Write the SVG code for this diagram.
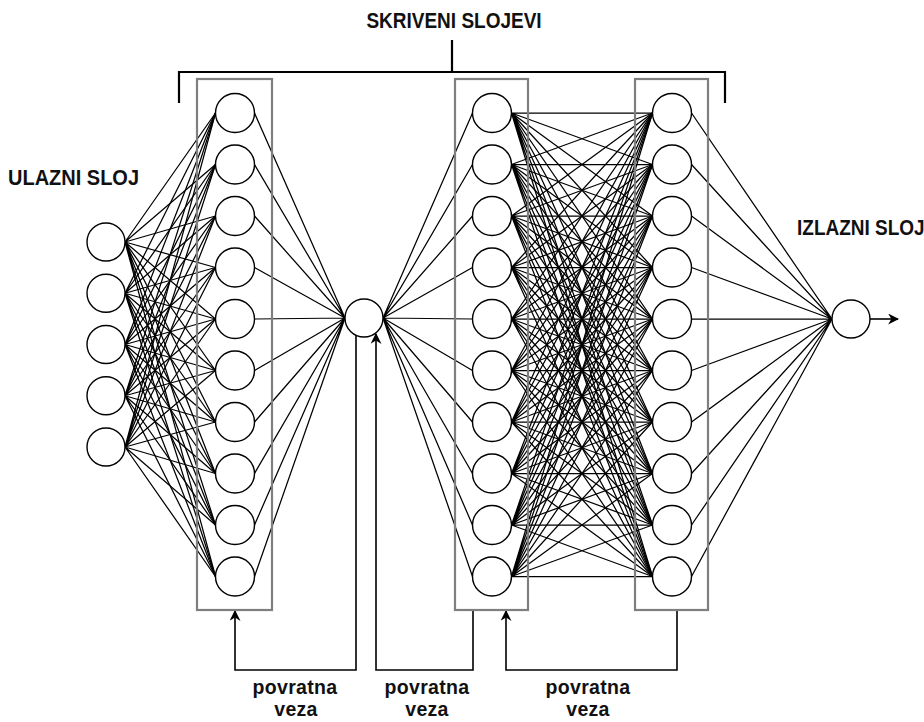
<svg xmlns="http://www.w3.org/2000/svg" width="924" height="722" viewBox="0 0 924 722">
<style>
.n{fill:#fff;stroke:#000;stroke-width:1.4}
.box{fill:none;stroke:#7f7f7f;stroke-width:2.2}
.e{fill:none;stroke:#000;stroke-width:1.25}
.fb{fill:none;stroke:#000;stroke-width:1.6}
.br{fill:none;stroke:#000;stroke-width:2.2}
.t{font-family:"Liberation Sans",Arial,sans-serif;font-weight:bold;font-size:19px;fill:#111}
.p{font-family:"Liberation Sans",Arial,sans-serif;font-weight:bold;font-size:19.5px;fill:#111;text-anchor:middle;letter-spacing:0.3px}
</style>
<defs>
<marker id="ah" viewBox="0 0 10 10" refX="9" refY="5" markerWidth="11" markerHeight="11" markerUnits="userSpaceOnUse" orient="auto">
<path d="M0 0L10 5L0 10L3 5Z" fill="#000"/>
</marker>
</defs>
<rect width="924" height="722" fill="#fff"/>

<g id="labels">
<text class="t" transform="translate(454,28) scale(1,1.15)" text-anchor="middle">SKRIVENI SLOJEVI</text>
<text class="t" transform="translate(8,185) scale(1,1.12)" style="font-size:20px">ULAZNI SLOJ</text>
<text class="t" transform="translate(797,235) scale(1,1.15)">IZLAZNI SLOJ</text>
<text class="p" x="295" y="694">povratna</text>
<text class="p" x="296" y="716">veza</text>
<text class="p" x="427" y="694">povratna</text>
<text class="p" x="427" y="716">veza</text>
<text class="p" x="588" y="694">povratna</text>
<text class="p" x="588" y="716">veza</text>
</g>

<g id="bracket">
<path class="br" d="M179 103V72H725V103M452 40V72"/>
</g>

<g id="connectors">
<path class="e" d="M125 242L215.5 113M125 242L215.5 164.5M125 242L215.5 216M125 242L215.5 267.5M125 242L215.5 319M125 242L215.5 370.5M125 242L215.5 422M125 242L215.5 473.5M125 242L215.5 525M125 242L215.5 576.5"/>
<path class="e" d="M125 293.25L215.5 113M125 293.25L215.5 164.5M125 293.25L215.5 216M125 293.25L215.5 267.5M125 293.25L215.5 319M125 293.25L215.5 370.5M125 293.25L215.5 422M125 293.25L215.5 473.5M125 293.25L215.5 525M125 293.25L215.5 576.5"/>
<path class="e" d="M125 344.5L215.5 113M125 344.5L215.5 164.5M125 344.5L215.5 216M125 344.5L215.5 267.5M125 344.5L215.5 319M125 344.5L215.5 370.5M125 344.5L215.5 422M125 344.5L215.5 473.5M125 344.5L215.5 525M125 344.5L215.5 576.5"/>
<path class="e" d="M125 395.75L215.5 113M125 395.75L215.5 164.5M125 395.75L215.5 216M125 395.75L215.5 267.5M125 395.75L215.5 319M125 395.75L215.5 370.5M125 395.75L215.5 422M125 395.75L215.5 473.5M125 395.75L215.5 525M125 395.75L215.5 576.5"/>
<path class="e" d="M125 447L215.5 113M125 447L215.5 164.5M125 447L215.5 216M125 447L215.5 267.5M125 447L215.5 319M125 447L215.5 370.5M125 447L215.5 422M125 447L215.5 473.5M125 447L215.5 525M125 447L215.5 576.5"/>

<path class="e" d="M254.5 113L345 318M254.5 164.5L345 318M254.5 216L345 318M254.5 267.5L345 318M254.5 319L345 318M254.5 370.5L345 318M254.5 422L345 318M254.5 473.5L345 318M254.5 525L345 318M254.5 576.5L345 318"/>

<path class="e" d="M383 318L472.5 113M383 318L472.5 164.5M383 318L472.5 216M383 318L472.5 267.5M383 318L472.5 319M383 318L472.5 370.5M383 318L472.5 422M383 318L472.5 473.5M383 318L472.5 525M383 318L472.5 576.5"/>

<path class="e" d="M511.5 113L652.5 113M511.5 113L652.5 164.5M511.5 113L652.5 216M511.5 113L652.5 267.5M511.5 113L652.5 319M511.5 113L652.5 370.5M511.5 113L652.5 422M511.5 113L652.5 473.5M511.5 113L652.5 525M511.5 113L652.5 576.5"/>
<path class="e" d="M511.5 164.5L652.5 113M511.5 164.5L652.5 164.5M511.5 164.5L652.5 216M511.5 164.5L652.5 267.5M511.5 164.5L652.5 319M511.5 164.5L652.5 370.5M511.5 164.5L652.5 422M511.5 164.5L652.5 473.5M511.5 164.5L652.5 525M511.5 164.5L652.5 576.5"/>
<path class="e" d="M511.5 216L652.5 113M511.5 216L652.5 164.5M511.5 216L652.5 216M511.5 216L652.5 267.5M511.5 216L652.5 319M511.5 216L652.5 370.5M511.5 216L652.5 422M511.5 216L652.5 473.5M511.5 216L652.5 525M511.5 216L652.5 576.5"/>
<path class="e" d="M511.5 267.5L652.5 113M511.5 267.5L652.5 164.5M511.5 267.5L652.5 216M511.5 267.5L652.5 267.5M511.5 267.5L652.5 319M511.5 267.5L652.5 370.5M511.5 267.5L652.5 422M511.5 267.5L652.5 473.5M511.5 267.5L652.5 525M511.5 267.5L652.5 576.5"/>
<path class="e" d="M511.5 319L652.5 113M511.5 319L652.5 164.5M511.5 319L652.5 216M511.5 319L652.5 267.5M511.5 319L652.5 319M511.5 319L652.5 370.5M511.5 319L652.5 422M511.5 319L652.5 473.5M511.5 319L652.5 525M511.5 319L652.5 576.5"/>
<path class="e" d="M511.5 370.5L652.5 113M511.5 370.5L652.5 164.5M511.5 370.5L652.5 216M511.5 370.5L652.5 267.5M511.5 370.5L652.5 319M511.5 370.5L652.5 370.5M511.5 370.5L652.5 422M511.5 370.5L652.5 473.5M511.5 370.5L652.5 525M511.5 370.5L652.5 576.5"/>
<path class="e" d="M511.5 422L652.5 113M511.5 422L652.5 164.5M511.5 422L652.5 216M511.5 422L652.5 267.5M511.5 422L652.5 319M511.5 422L652.5 370.5M511.5 422L652.5 422M511.5 422L652.5 473.5M511.5 422L652.5 525M511.5 422L652.5 576.5"/>
<path class="e" d="M511.5 473.5L652.5 113M511.5 473.5L652.5 164.5M511.5 473.5L652.5 216M511.5 473.5L652.5 267.5M511.5 473.5L652.5 319M511.5 473.5L652.5 370.5M511.5 473.5L652.5 422M511.5 473.5L652.5 473.5M511.5 473.5L652.5 525M511.5 473.5L652.5 576.5"/>
<path class="e" d="M511.5 525L652.5 113M511.5 525L652.5 164.5M511.5 525L652.5 216M511.5 525L652.5 267.5M511.5 525L652.5 319M511.5 525L652.5 370.5M511.5 525L652.5 422M511.5 525L652.5 473.5M511.5 525L652.5 525M511.5 525L652.5 576.5"/>
<path class="e" d="M511.5 576.5L652.5 113M511.5 576.5L652.5 164.5M511.5 576.5L652.5 216M511.5 576.5L652.5 267.5M511.5 576.5L652.5 319M511.5 576.5L652.5 370.5M511.5 576.5L652.5 422M511.5 576.5L652.5 473.5M511.5 576.5L652.5 525M511.5 576.5L652.5 576.5"/>

<path class="e" d="M691.5 113L832 319M691.5 164.5L832 319M691.5 216L832 319M691.5 267.5L832 319M691.5 319L832 319M691.5 370.5L832 319M691.5 422L832 319M691.5 473.5L832 319M691.5 525L832 319M691.5 576.5L832 319"/>

<path class="fb" d="M870 319H898" marker-end="url(#ah)"/>
<path class="fb" d="M356 335V670H235V611" marker-end="url(#ah)"/>
<path class="fb" d="M473 611V670H376V334" marker-end="url(#ah)"/>
<path class="fb" d="M677 611V670H506V611" marker-end="url(#ah)"/>
</g>

<g id="box-hidden1"><rect class="box" x="197" y="79" width="75" height="531"/></g>
<g id="box-hidden2"><rect class="box" x="455" y="79" width="73" height="531"/></g>
<g id="box-hidden3"><rect class="box" x="635" y="79" width="73" height="531"/></g>

<g id="input-layer">
<circle class="n" cx="106" cy="242" r="19"/>
<circle class="n" cx="106" cy="293.25" r="19"/>
<circle class="n" cx="106" cy="344.5" r="19"/>
<circle class="n" cx="106" cy="395.75" r="19"/>
<circle class="n" cx="106" cy="447" r="19"/>
</g>

<g id="hidden1">
<circle class="n" cx="235" cy="113" r="19.5"/>
<circle class="n" cx="235" cy="164.5" r="19.5"/>
<circle class="n" cx="235" cy="216" r="19.5"/>
<circle class="n" cx="235" cy="267.5" r="19.5"/>
<circle class="n" cx="235" cy="319" r="19.5"/>
<circle class="n" cx="235" cy="370.5" r="19.5"/>
<circle class="n" cx="235" cy="422" r="19.5"/>
<circle class="n" cx="235" cy="473.5" r="19.5"/>
<circle class="n" cx="235" cy="525" r="19.5"/>
<circle class="n" cx="235" cy="576.5" r="19.5"/>
</g>

<g id="center-node">
<circle class="n" cx="364" cy="318" r="19"/>
</g>

<g id="hidden2">
<circle class="n" cx="492" cy="113" r="19.5"/>
<circle class="n" cx="492" cy="164.5" r="19.5"/>
<circle class="n" cx="492" cy="216" r="19.5"/>
<circle class="n" cx="492" cy="267.5" r="19.5"/>
<circle class="n" cx="492" cy="319" r="19.5"/>
<circle class="n" cx="492" cy="370.5" r="19.5"/>
<circle class="n" cx="492" cy="422" r="19.5"/>
<circle class="n" cx="492" cy="473.5" r="19.5"/>
<circle class="n" cx="492" cy="525" r="19.5"/>
<circle class="n" cx="492" cy="576.5" r="19.5"/>
</g>

<g id="hidden3">
<circle class="n" cx="672" cy="113" r="19.5"/>
<circle class="n" cx="672" cy="164.5" r="19.5"/>
<circle class="n" cx="672" cy="216" r="19.5"/>
<circle class="n" cx="672" cy="267.5" r="19.5"/>
<circle class="n" cx="672" cy="319" r="19.5"/>
<circle class="n" cx="672" cy="370.5" r="19.5"/>
<circle class="n" cx="672" cy="422" r="19.5"/>
<circle class="n" cx="672" cy="473.5" r="19.5"/>
<circle class="n" cx="672" cy="525" r="19.5"/>
<circle class="n" cx="672" cy="576.5" r="19.5"/>
</g>

<g id="output-node">
<circle class="n" cx="851" cy="319" r="19"/>
</g>
</svg>
